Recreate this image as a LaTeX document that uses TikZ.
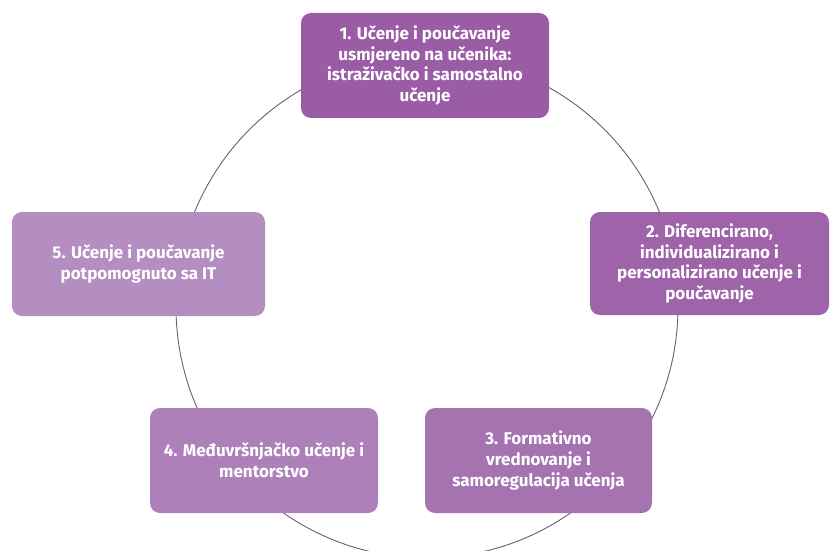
\documentclass[tikz,border=0pt]{standalone}
\usepackage{fontspec}
\setmainfont{Fira Sans}
\usepackage{tikz}
\usetikzlibrary{positioning}
\definecolor{ringc}{HTML}{6F5A7C}
\definecolor{pA}{HTML}{9B5CA6}
\definecolor{pB}{HTML}{9E63A9}
\definecolor{pC}{HTML}{A673B1}
\definecolor{pD}{HTML}{AD80B9}
\definecolor{pE}{HTML}{B48DC1}
\tikzset{
  bx/.style={rectangle,rounded corners=10pt,inner sep=0pt,align=center,
             text=white,font=\bfseries\fontsize{17}{20.6}\selectfont},
  ring/.style={draw=ringc,line width=0.9pt}
}

\begin{document}
\begin{tikzpicture}[x=1pt,y=-1pt]
  \clip (0,0) rectangle (831,551);
  % ---- cycle ----
  \coordinate (ctr) at (427,307);
  \draw[ring] (ctr) circle[radius=251];

  % ---- steps ----
  \node[bx,fill=pA,minimum width=248pt,minimum height=105pt] (s1) at (425,65.5)
    {1. Učenje i poučavanje\\usmjereno na učenika:\\istraživačko i samostalno\\učenje};
  \node[bx,fill=pB,minimum width=239pt,minimum height=103pt] (s2) at (709.5,263.5)
    {2. Diferencirano,\\individualizirano i\\personalizirano učenje i\\poučavanje};
  \node[bx,fill=pC,minimum width=227pt,minimum height=105pt] (s3) at (538.5,460.5)
    {3. Formativno\\vrednovanje i\\samoregulacija učenja};
  \node[bx,fill=pD,minimum width=228pt,minimum height=105pt] (s4) at (264,460.5)
    {4. Međuvršnjačko učenje i\\mentorstvo};
  \node[bx,fill=pE,minimum width=253pt,minimum height=104pt] (s5) at (138.5,264)
    {5. Učenje i poučavanje\\potpomognuto sa IT};
\end{tikzpicture}
\end{document}
